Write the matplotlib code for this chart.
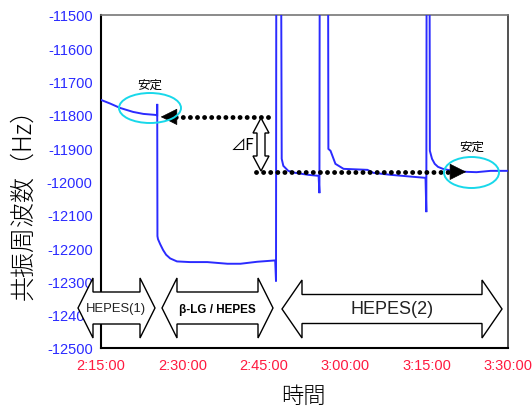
import matplotlib
matplotlib.use("Agg")
import matplotlib.pyplot as plt
import matplotlib.patches as mpatches
import numpy as np

plt.rcParams['font.family'] = ['Liberation Sans', 'Noto Sans CJK JP', 'DejaVu Sans']
plt.rcParams['axes.unicode_minus'] = False

# ---- data (minutes after 2:15:00, frequency in Hz) ----
t_min = [0.0, 1.7, 3.5, 5.9, 7.8, 10.0, 10.35, 10.36, 10.4, 10.5, 10.9, 11.45, 12.0,
         12.75, 14.0, 16.4, 19.6, 23.3, 25.7, 28.8, 32.1,
         32.25, 32.3, 33.2, 33.3, 33.6, 34.5, 35.8, 38.2, 40.1,
         40.25, 40.3, 41.85, 41.9, 42.3, 43.2, 44.7, 49.1, 50.2, 53.4, 57.6, 59.8,
         59.95, 60.0, 60.55, 60.6, 61.0, 61.5, 62.1, 63.0, 64.8, 67.4, 69.2, 71.8, 75.0]
freq = [-11755, -11766, -11779, -11791, -11797, -11800, -11801, -11767, -12164, -12173, -12188, -12206, -12220,
        -12231, -12240, -12242, -12242, -12247, -12247, -12241, -12237,
        -12300, -11400, -11400, -11932, -11953, -11968, -11974, -11980, -11983,
        -12035, -11400, -11400, -11902, -11908, -11947, -11962, -11965, -11974, -11980, -11986, -11989,
        -12092, -11400, -11400, -11908, -11932, -11947, -11956, -11962, -11968, -11971, -11972, -11968, -11968]

yticks = [-11500, -11600, -11700, -11800, -11900, -12000, -12100, -12200, -12300, -12400, -12500]
xticks = [0, 15, 30, 45, 60, 75]
xticklabels = ["2:15:00", "2:30:00", "2:45:00", "3:00:00", "3:15:00", "3:30:00"]

level_before = -11806
level_after = -11971

W, H = 532, 410
fig = plt.figure(figsize=(W / 100, H / 100), dpi=100)
ax = fig.add_axes([101 / W, 1 - 349 / H, 407 / W, 333 / H])

ax.plot(t_min, freq, color='#2b2bff', lw=1.4, solid_joinstyle='miter', zorder=3)
ax.set_xlim(0, 75)
ax.set_ylim(-12500, -11500)
ax.set_yticks(yticks)
ax.set_yticklabels([str(v) for v in yticks], color='#2a2aff', fontsize=10.5)
ax.set_xticks(xticks)
ax.set_xticklabels(xticklabels, color='#ff1a40', fontsize=10.5)
ax.tick_params(axis='both', length=0)
ax.tick_params(axis='y', pad=6)
ax.tick_params(axis='x', pad=7)
for s in ['left', 'bottom']:
    ax.spines[s].set_linewidth(1.5)
    ax.spines[s].set_color('black')
ax.spines['right'].set_linewidth(1.2)
ax.spines['right'].set_color('#333333')
ax.spines['top'].set_linewidth(1.2)
ax.spines['top'].set_color('#777777')

# axis labels
fig.text(23 / W, 1 - 198 / H, '共振周波数（Hz）', rotation=90, fontsize=18,
         family=['Noto Sans CJK JP'], weight='light', ha='center', va='center')
fig.text(303 / W, 1 - 397 / H, '時間', fontsize=16,
         family=['Noto Sans CJK JP'], weight='light', ha='center', va='center')

# dotted lines with arrowheads
dot = dict(color='black', lw=3.5, linestyle=(0, (0.01, 1.45)), dash_capstyle='round', zorder=5)
ax.plot([30.85, 12.9], [level_before, level_before], **dot)
ax.plot([28.6, 65.6], [level_after, level_after], **dot)
ax.annotate('', xy=(10.5, level_before), xytext=(13.3, level_before),
            arrowprops=dict(arrowstyle='-|>,head_length=1.1,head_width=0.55', color='black', lw=0.5), zorder=6)
ax.annotate('', xy=(67.8, level_after), xytext=(65.2, level_after),
            arrowprops=dict(arrowstyle='-|>,head_length=1.1,head_width=0.55', color='black', lw=0.5), zorder=6)

def px(x, y):
    return (x / W, 1 - y / H)

def hdarrow(x0, x1, yc, hh, sh, hl, **kw):
    pts = [(x0, yc), (x0 + hl, yc - hh), (x0 + hl, yc - sh), (x1 - hl, yc - sh), (x1 - hl, yc - hh),
           (x1, yc), (x1 - hl, yc + hh), (x1 - hl, yc + sh), (x0 + hl, yc + sh), (x0 + hl, yc + hh)]
    return mpatches.Polygon([px(*p) for p in pts], closed=True, transform=fig.transFigure,
                            facecolor='white', edgecolor='black', lw=1.0, zorder=10, **kw)

def vdarrow(xc, y0, y1, hw, sw, hl):
    pts = [(xc, y0), (xc + hw, y0 + hl), (xc + sw, y0 + hl), (xc + sw, y1 - hl), (xc + hw, y1 - hl),
           (xc, y1), (xc - hw, y1 - hl), (xc - sw, y1 - hl), (xc - sw, y0 + hl), (xc - hw, y0 + hl)]
    return mpatches.Polygon([px(*p) for p in pts], closed=True, transform=fig.transFigure,
                            facecolor='white', edgecolor='black', lw=1.0, zorder=10)

# ΔF double arrow
fig.patches.append(vdarrow(261, 119, 172, 8, 4, 15))
fig.text(*px(242, 145), '⊿F', fontsize=11, ha='center', va='center',
         family=['Noto Sans CJK JP', 'DejaVu Sans'])

# stability ellipses
for (cx, cy, w, h), (tx, ty) in [((150, 109, 62, 30), (150, 85)), ((471.5, 173.5, 55, 31), (472, 147))]:
    e = mpatches.Ellipse(px(cx, cy), w / W, h / H, transform=fig.transFigure,
                         facecolor='none', edgecolor='#18d8ea', lw=1.4, zorder=7)
    fig.patches.append(e)
    fig.text(*px(tx, ty), '安定', fontsize=9, ha='center', va='center',
             family=['Noto Sans CJK JP'])

# phase block arrows
fig.patches.append(hdarrow(78, 155, 309, 30, 16, 15))
fig.patches.append(hdarrow(162, 273, 309, 30, 16, 15))
fig.patches.append(hdarrow(282, 502, 310, 29, 14.5, 20))
fig.text(*px(116, 309), 'HEPES(1)', fontsize=9.4, ha='center', va='center', zorder=11, color='#222222')
fig.text(*px(217, 310), 'β-LG / HEPES', fontsize=8.5, weight='bold', ha='center', va='center', zorder=11)
fig.text(*px(392, 310), 'HEPES(2)', fontsize=13, ha='center', va='center', zorder=11, color='#222222')

fig.savefig('out.png', dpi=100)
